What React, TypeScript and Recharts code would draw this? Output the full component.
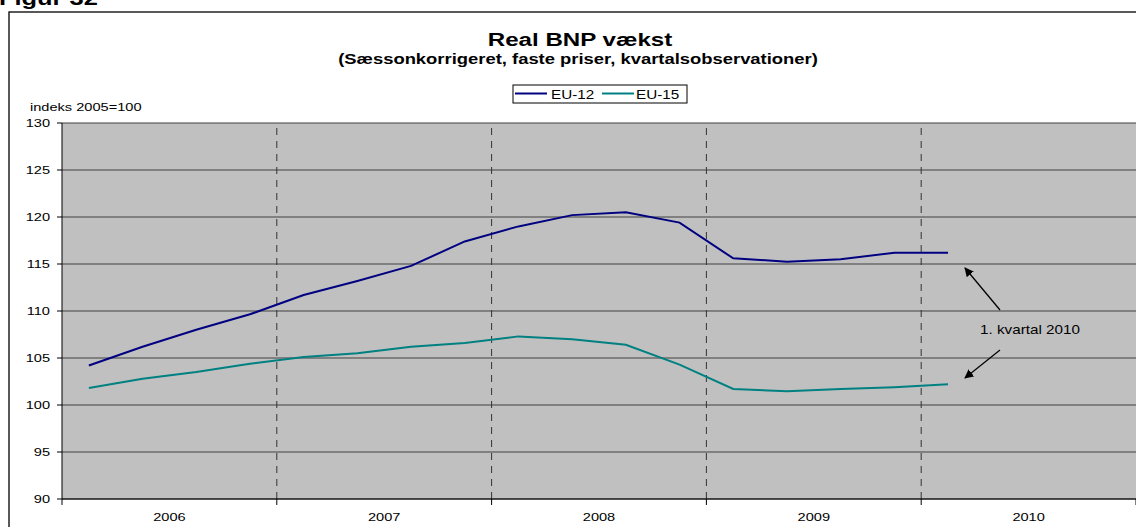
import React from 'react';
import { LineChart, Line, XAxis, YAxis, CartesianGrid, ReferenceLine } from 'recharts';

// quarterly observations, 2006K1 - 2010K1
const quarters = [
  '2006K1', '2006K2', '2006K3', '2006K4',
  '2007K1', '2007K2', '2007K3', '2007K4',
  '2008K1', '2008K2', '2008K3', '2008K4',
  '2009K1', '2009K2', '2009K3', '2009K4',
  '2010K1',
];
const eu12 = [104.2, 106.2, 108.0, 109.65, 111.7, 113.2, 114.8, 117.4, 119.0, 120.2, 120.5, 119.4, 115.6, 115.25, 115.5, 116.2, 116.2];
const eu15 = [101.8, 102.8, 103.5, 104.4, 105.1, 105.5, 106.2, 106.6, 107.3, 107.0, 106.4, 104.3, 101.7, 101.45, 101.7, 101.9, 102.2];
const years = ['2006', '2007', '2008', '2009', '2010'];
const yTicks = [90, 95, 100, 105, 110, 115, 120, 125, 130];

const series = [
  { key: 'eu12', name: 'EU-12', color: '#000080' },
  { key: 'eu15', name: 'EU-15', color: '#008080' },
];

const FONT = 'Arial, "Liberation Sans", sans-serif';
const SX = 1.27; // the original picture is stretched horizontally

const data = quarters.map((q, i) => ({ q, x: i + 0.5, eu12: eu12[i], eu15: eu15[i] }));
const xTicks = years.flatMap((_, i) => [i * 4, i * 4 + 2]).concat([years.length * 4]);
const yearLines = years.slice(1).map((_, i) => (i + 1) * 4);

const Txt = ({ x, y, size, bold, anchor = 'start', children }: any) => (
  <text
    transform={`translate(${x},${y}) scale(${SX},1)`}
    fontSize={size}
    fontWeight={bold ? 'bold' : 'normal'}
    fontFamily={FONT}
    textAnchor={anchor}
    fill="#000"
  >
    {children}
  </text>
);

const YearTick = ({ x, y, payload }: any) => {
  const v = payload.value;
  if (v % 4 === 0) {
    return <line x1={x} y1={y} x2={x} y2={y + 6} stroke="#000" />;
  }
  return <Txt x={x} y={y + 22} size={11.5} anchor="middle">{years[(v - 2) / 4]}</Txt>;
};

const ValueTick = ({ x, y, payload }: any) => (
  <g transform={`translate(0,4)`}>
    <Txt x={x} y={y} size={11.5} anchor="end">{payload.value}</Txt>
  </g>
);

export default function App() {
  return (
    <div style={{ position: 'absolute', left: 0, top: 0, width: 1136, height: 527, overflow: 'hidden', background: '#fff' }}>
      <LineChart width={1136} height={527} data={data} margin={{ top: 123, right: 0, bottom: 0, left: 0 }}>
        <CartesianGrid vertical={false} stroke="#404040" fill="#C0C0C0" fillOpacity={1} />
        <XAxis
          type="number"
          dataKey="x"
          domain={[0, 20]}
          ticks={xTicks}
          interval={0}
          height={28}
          tickSize={0}
          tickMargin={0}
          tickLine={false}
          axisLine={{ stroke: '#000' }}
          tick={<YearTick />}
          allowDataOverflow
        />
        <YAxis
          domain={[90, 130]}
          ticks={yTicks}
          interval={0}
          width={62}
          tickSize={5}
          tickMargin={7}
          axisLine={{ stroke: '#000' }}
          tickLine={{ stroke: '#000' }}
          tick={<ValueTick />}
        />
        {yearLines.map((v) => (
          <ReferenceLine key={v} x={v} stroke="#333" strokeDasharray="7 6" />
        ))}
        {series.map((s) => (
          <Line
            key={s.key}
            type="linear"
            dataKey={s.key}
            name={s.name}
            stroke={s.color}
            strokeWidth={2}
            dot={false}
            isAnimationActive={false}
          />
        ))}
      </LineChart>

      <svg width={1136} height={527} style={{ position: 'absolute', left: 0, top: 0, pointerEvents: 'none' }}>
        <defs>
          <marker id="arr" viewBox="0 0 10 10" refX="9" refY="5" markerWidth="7" markerHeight="7" orient="auto-start-reverse">
            <path d="M0,0 L10,5 L0,10 z" fill="#000" />
          </marker>
        </defs>
        <Txt x={-1} y={5} size={20} bold>Figur 32</Txt>
        <rect x={9} y={12} width={1200} height={600} fill="none" stroke="#000" strokeWidth={1.3} />
        <Txt x={580} y={46} size={19} bold anchor="middle">Real BNP vækst</Txt>
        <Txt x={578} y={64} size={14.5} bold anchor="middle">(Sæssonkorrigeret, faste priser, kvartalsobservationer)</Txt>

        {/* legend */}
        <rect x={513} y={85} width={174} height={18} fill="#fff" stroke="#000" />
        {series.map((s, i) => (
          <g key={s.key}>
            <line x1={515 + i * 87} y1={93.5} x2={547 + i * 87} y2={93.5} stroke={s.color} strokeWidth={2} />
            <Txt x={551 + i * 85} y={99} size={12}>{s.name}</Txt>
          </g>
        ))}

        <Txt x={30} y={111} size={11.5}>indeks 2005=100</Txt>

        {/* annotation */}
        <line x1={1000} y1={310} x2={965} y2={268} stroke="#000" strokeWidth={1.3} markerEnd="url(#arr)" />
        <line x1={1000} y1={350} x2={965} y2={378} stroke="#000" strokeWidth={1.3} markerEnd="url(#arr)" />
        <Txt x={1030} y={334} size={12} anchor="middle">1. kvartal 2010</Txt>
      </svg>
    </div>
  );
}
